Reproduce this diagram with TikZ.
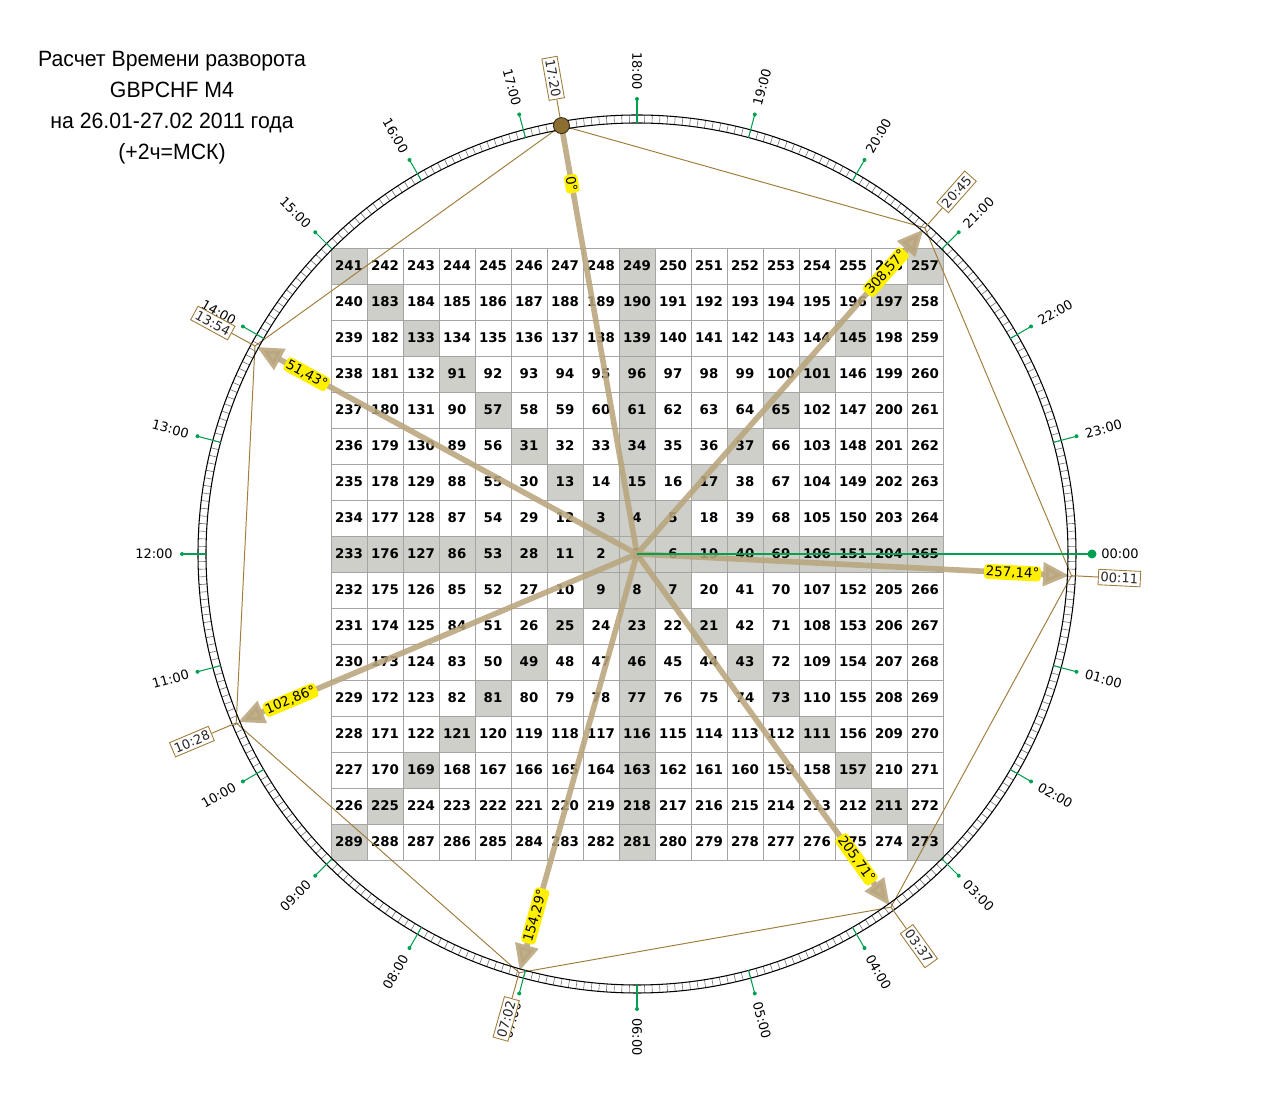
\documentclass[tikz,border=0pt]{standalone}
\usepackage{fontspec}
\setmainfont{DejaVu Sans}
\newfontfamily\titlefont{Liberation Sans}
\usetikzlibrary{arrows.meta}

\definecolor{cellgray}{RGB}{206,207,201}
\definecolor{gridgray}{RGB}{165,165,165}
\definecolor{raytan}{RGB}{185,165,125}
\definecolor{polybrown}{RGB}{160,125,60}
\definecolor{dotbrown}{RGB}{140,110,50}
\definecolor{hourgreen}{RGB}{0,160,80}
\definecolor{labelyellow}{RGB}{255,240,0}

\begin{document}
\begin{tikzpicture}[
  x=0.02cm, y=0.02cm,
  num/.style={font=\fontsize{7.6}{9}\selectfont\bfseries, inner sep=0pt},
  gridline/.style={draw=gridgray, line width=.5pt},
  ringline/.style={line width=.6pt},
  ringtick/.style={draw=black!55, line width=.35pt},
  hourtick/.style={draw=hourgreen, line width=.6pt},
  hourlabel/.style={font=\fontsize{7.4}{8}\selectfont, inner sep=0pt},
  polyline/.style={draw=polybrown, line width=.55pt},
  ray/.style={draw=raytan, line width=3.2pt, opacity=.88},
  raytip/.style={-{Triangle[length=15pt,width=13pt]}},
  anglabel/.style={fill=labelyellow, rounded corners=2pt, inner sep=1pt, font=\fontsize{7.6}{8}\selectfont},
  timebox/.style={draw=polybrown, fill=white, line width=.5pt, inner xsep=1.3pt, inner ysep=1.6pt, font=\fontsize{7.4}{8}\selectfont, text=black!85}
]
  \useasboundingbox (-637,-554) rectangle (638,554);
  \coordinate (c) at (0,0);

  % Title
  \node[font=\titlefont\fontsize{12.6}{17.6}\selectfont, align=center, xscale=.96] (title) at (-465,446)
    {Расчет Времени разворота\\GBPCHF M4\\на 26.01-27.02 2011 года\\(+2ч=МСК)};

  % Square of numbers
  \foreach \x in {-8,...,8}
    \foreach \y in {-8,...,8} {
      \pgfmathtruncatemacro\ring{max(abs(\x),abs(\y))}
      \pgfmathtruncatemacro\base{(2*\ring-1)^2}
      \pgfmathtruncatemacro\cellnum{\ring==0 ? 1 : (\x==-\ring && \y>-\ring ? \base+\y+\ring : (\y==\ring ? \base+3*\ring+\x : (\x==\ring ? \base+5*\ring-\y : \base+7*\ring-\x)))}
      \pgfmathtruncatemacro\shade{\x==0 || \y==0 || abs(\x)==abs(\y)}
      \ifnum\shade=1
        \fill[cellgray] (\x*36-18,\y*36-18) rectangle +(36,36);
      \fi
      \node[num] (n\cellnum) at (\x*36,\y*36) {\cellnum};
    }

  % Grid
  \draw[gridline, shift={(-18,-18)}] (-288,-288) grid[step=36] (324,324);

  % Points on the circle
  \foreach \i in {0,...,6} {
    \pgfmathsetmacro\ang{100+360/7*\i}
    \coordinate (p\i) at (\ang:435);
    \coordinate (a\i) at (\ang:433);
  }
  \draw[polyline] (p0) -- (p1) -- (p2) -- (p3) -- (p4) -- (p5) -- (p6) -- cycle;

  % Rays
  \foreach \deg [count=\i from 0] in {0°,51{,}43°,102{,}86°,154{,}29°,205{,}71°,257{,}14°,308{,}57°} {
    \pgfmathsetmacro\ang{100+360/7*\i}
    \pgfmathsetmacro\rot{(\ang>90 && \ang<270) ? \ang-180 : \ang}
    \ifnum\i=0
      \draw[ray] (c) -- (p\i);
    \else
      \draw[ray, raytip] (c) -- (a\i);
    \fi
    \node[anglabel, rotate=\rot] (l\i) at (\ang:376) {\deg};
  }

  % Zero hour line
  \coordinate (h0) at (0:455);
  \draw[hourtick] (c) -- (h0);

  % Ring
  \foreach \k in {0,...,359}
    \draw[ringtick] (\k:431) -- (\k:439);
  \draw[ringline] (c) circle (431);
  \draw[ringline] (c) circle (439);

  % Hours
  \foreach \h in {0,...,23} {
    \pgfmathsetmacro\ang{-15*\h}
    \pgfmathsetmacro\rot{(\h>6 && \h<19) ? \ang+180 : \ang}
    \coordinate (h\h) at (\ang:455);
    \draw[hourtick] (\ang:431) -- (h\h);
    \fill[hourgreen] (h\h) circle (2);
    \node[hourlabel, rotate=\rot] (hl\h) at (\ang:483) {\ifnum\h<10 0\fi\h:00};
  }
  \fill[hourgreen] (h0) circle (4.5);

  % Time marks
  \foreach \tm [count=\i from 0] in {17:20,13:54,10:28,07:02,03:37,00:11,20:45} {
    \pgfmathsetmacro\ang{100+360/7*\i}
    \pgfmathsetmacro\rot{(\ang>90 && \ang<270) ? \ang-180 : \ang}
    \node[timebox, rotate=\rot] (t\i) at (\ang:483) {\tm};
    \draw[polyline] (p\i) -- (t\i);
  }

  % Start point
  \filldraw[fill=dotbrown, draw=black!60!dotbrown, line width=.5pt] (p0) circle (8);
\end{tikzpicture}
\end{document}
